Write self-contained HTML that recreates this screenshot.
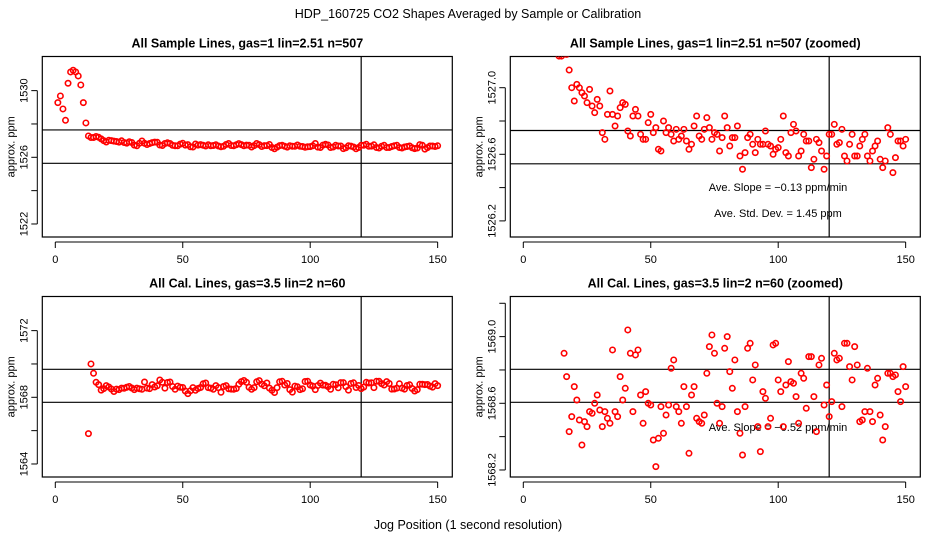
<!DOCTYPE html>
<html><head><meta charset="utf-8"><style>
html,body{margin:0;padding:0;background:#fff;width:936px;height:540px;overflow:hidden;}
svg{display:block;font-family:"Liberation Sans",sans-serif;overflow:hidden;}
</style></head><body>
<svg id="c" width="936" height="540" viewBox="0 0 936 540">
<text x="468" y="18" text-anchor="middle" font-size="12.5">HDP_160725  CO2 Shapes Averaged by Sample or Calibration</text>
<text x="468" y="529" text-anchor="middle" font-size="12.5">Jog Position (1 second resolution)</text>
</svg>
<script>
const sampleX=[1,2,3,4,5,6,7,8,9,10,11,12,13,14,15,16,17,18,19,20,21,22,23,24,25,26,27,28,29,30,31,32,33,34,35,36,37,38,39,40,41,42,43,44,45,46,47,48,49,50,51,52,53,54,55,56,57,58,59,60,61,62,63,64,65,66,67,68,69,70,71,72,73,74,75,76,77,78,79,80,81,82,83,84,85,86,87,88,89,90,91,92,93,94,95,96,97,98,99,100,101,102,103,104,105,106,107,108,109,110,111,112,113,114,115,116,117,118,119,120,121,122,123,124,125,126,127,128,129,130,131,132,133,134,135,136,137,138,139,140,141,142,143,144,145,146,147,148,149,150];
const sampleY=[1529.28,1529.68,1528.9,1528.22,1530.44,1531.12,1531.22,1531.12,1530.88,1530.34,1529.28,1528.06,1527.28,1527.19,1527.19,1527.25,1527.2,1527.106,1527.0,1526.92,1527.02,1527.0,1526.97,1526.95,1526.91,1526.99,1526.89,1526.85,1526.93,1526.89,1526.73,1526.69,1526.84,1526.98,1526.84,1526.77,1526.83,1526.88,1526.91,1526.90,1526.74,1526.71,1526.83,1526.87,1526.83,1526.72,1526.69,1526.69,1526.79,1526.84,1526.73,1526.76,1526.63,1526.62,1526.80,1526.73,1526.76,1526.72,1526.68,1526.75,1526.69,1526.71,1526.75,1526.68,1526.63,1526.66,1526.77,1526.83,1526.71,1526.69,1526.75,1526.82,1526.76,1526.69,1526.73,1526.72,1526.62,1526.70,1526.83,1526.76,1526.65,1526.70,1526.70,1526.77,1526.59,1526.51,1526.61,1526.70,1526.72,1526.66,1526.61,1526.69,1526.66,1526.66,1526.74,1526.66,1526.65,1526.60,1526.63,1526.64,1526.69,1526.83,1526.61,1526.59,1526.73,1526.78,1526.74,1526.59,1526.62,1526.72,1526.68,1526.68,1526.52,1526.57,1526.69,1526.67,1526.62,1526.51,1526.59,1526.72,1526.72,1526.78,1526.66,1526.67,1526.75,1526.59,1526.56,1526.66,1526.72,1526.59,1526.59,1526.65,1526.69,1526.72,1526.59,1526.56,1526.62,1526.65,1526.68,1526.57,1526.52,1526.56,1526.76,1526.72,1526.49,1526.58,1526.68,1526.68,1526.65,1526.69];
const calX=[13,14,15,16,17,18,19,20,21,22,23,24,25,26,27,28,29,30,31,32,33,34,35,36,37,38,39,40,41,42,43,44,45,46,47,48,49,50,51,52,53,54,55,56,57,58,59,60,61,62,63,64,65,66,67,68,69,70,71,72,73,74,75,76,77,78,79,80,81,82,83,84,85,86,87,88,89,90,91,92,93,94,95,96,97,98,99,100,101,102,103,104,105,106,107,108,109,110,111,112,113,114,115,116,117,118,119,120,121,122,123,124,125,126,127,128,129,130,131,132,133,134,135,136,137,138,139,140,141,142,143,144,145,146,147,148,149,150];
const calY=[1565.82,1570.0,1569.44,1568.90,1568.76,1568.43,1568.52,1568.70,1568.62,1568.50,1568.35,1568.49,1568.46,1568.55,1568.54,1568.60,1568.65,1568.56,1568.46,1568.55,1568.51,1568.48,1568.92,1568.55,1568.52,1568.76,1568.62,1568.69,1569.04,1568.90,1568.55,1568.89,1568.92,1568.65,1568.48,1568.67,1568.60,1568.59,1568.38,1568.22,1568.39,1568.58,1568.42,1568.53,1568.59,1568.81,1568.86,1568.58,1568.55,1568.48,1568.70,1568.58,1568.30,1568.65,1568.70,1568.51,1568.49,1568.48,1568.53,1568.78,1568.94,1569.01,1568.90,1568.60,1568.48,1568.58,1568.93,1569.00,1568.79,1568.69,1568.86,1568.55,1568.42,1568.29,1568.58,1568.93,1568.96,1568.74,1568.83,1568.46,1568.31,1568.67,1568.63,1568.46,1568.51,1568.95,1568.96,1568.74,1568.67,1568.46,1568.71,1568.85,1568.73,1568.72,1568.64,1568.48,1568.78,1568.75,1568.57,1568.88,1568.88,1568.64,1568.43,1568.83,1568.87,1568.59,1568.71,1568.52,1568.61,1568.90,1568.86,1568.87,1568.58,1568.96,1568.96,1568.82,1568.74,1568.94,1568.83,1568.49,1568.50,1568.55,1568.81,1568.55,1568.49,1568.71,1568.75,1568.53,1568.38,1568.46,1568.78,1568.78,1568.76,1568.77,1568.67,1568.61,1568.82,1568.70];
const xTicks=[0,50,100,150];
const tlTicks=[1522,1524,1526,1528,1530], tlLabels=["1522","","1526","","1530"];
const trTicks=[1526.2,1526.4,1526.6,1526.8,1527.0], trLabels=["1526.2","","1526.6","","1527.0"];
const blTicks=[1564,1566,1568,1570,1572], blLabels=["1564","","1568","","1572"];
const brTicks=[1568.2,1568.4,1568.6,1568.8,1569.0,1569.2], brLabels=["1568.2","","1568.6","","1569.0",""];
const vLine=120;

const NS="http://www.w3.org/2000/svg";
const svg=document.getElementById('c');
function mk(tag,attrs,parent){const e=document.createElementNS(NS,tag);for(const k in attrs)e.setAttribute(k,attrs[k]);(parent||svg).appendChild(e);return e;}

function panel(o){
  const g=mk('g',{});
  
  
  const L=o.left,R=o.left+410,T=o.top,B=o.top+180.5;
  const xs=v=>o.left+13+v*2.549;
  const ys=v=>o.y0-(v-o.v0)*o.k;
  const cid='clip-'+o.name;
  const cp=mk('clipPath',{id:cid},g);mk('rect',{x:L,y:T,width:R-L,height:B-T},cp);
  const t=mk('text',{x:(L+R)/2,y:T-9,'text-anchor':'middle','font-size':12.5,'font-weight':'bold'},g);
  t.textContent=o.title;
  
  
  const box=mk('rect',{x:L,y:T,width:R-L,height:B-T,fill:'none',stroke:'#000','stroke-width':1.2},g);
  
  
  const xa=mk('g',{},g);
  
  
  mk('line',{x1:xs(xTicks[0]),x2:xs(xTicks[xTicks.length-1]),y1:B+5,y2:B+5,stroke:'#000'},xa);
  xTicks.forEach(v=>{mk('line',{x1:xs(v),x2:xs(v),y1:B+5,y2:B+11,stroke:'#000'},xa);
    if(o.xlab){const tl=mk('text',{x:xs(v),y:B+26,'text-anchor':'middle','font-size':11},xa);tl.textContent=v;
    
    }});
  const ya=mk('g',{},g);
  
  
  mk('line',{x1:L-5,x2:L-5,y1:ys(o.ticks[0]),y2:ys(o.ticks[o.ticks.length-1]),stroke:'#000'},ya);
  o.ticks.forEach((v,i)=>{mk('line',{x1:L-11,x2:L-5,y1:ys(v),y2:ys(v),stroke:'#000'},ya);
    if(o.labels[i]){const tl=mk('text',{x:0,y:0,'text-anchor':'middle','font-size':11,transform:`translate(${L-15},${ys(v)}) rotate(-90)`},ya);tl.textContent=o.labels[i];
    
    }});
  const yt=mk('text',{x:0,y:0,'text-anchor':'middle','font-size':11,transform:`translate(${L-28},${(T+B)/2}) rotate(-90)`},g);
  yt.textContent='approx. ppm';
  
  
  o.hl.forEach(v=>{const l=mk('line',{x1:L,x2:R,y1:ys(v),y2:ys(v),stroke:'#000','stroke-width':1.2},g);
    
    });
  const vl=mk('line',{x1:xs(vLine),x2:xs(vLine),y1:T,y2:B,stroke:'#000','stroke-width':1.2},g);
  
  
  (o.notes||[]).forEach(n=>{const tx=mk('text',{x:n[0],y:n[1],'text-anchor':'middle','font-size':11},g);tx.textContent=n[2];
    
    });
  const pg=mk('g',{'clip-path':`url(#${cid})`},g);
  o.X.forEach((x,i)=>{const c=mk('circle',{cx:xs(x),cy:ys(o.Y[i]),r:2.7,fill:'none',stroke:'#f00','stroke-width':1.6},pg);
    
    });
}
panel({name:'sample-panel',left:42.3,top:56.5,title:'All Sample Lines, gas=1 lin=2.51 n=507',y0:157.3,v0:1526,k:16.67,ticks:tlTicks,labels:tlLabels,hl:[1527.64,1525.64],X:sampleX,Y:sampleY,xlab:true});
panel({name:'sample-zoomed-panel',left:510.3,top:56.5,title:'All Sample Lines, gas=1 lin=2.51 n=507 (zoomed)',y0:154.3,v0:1526.6,k:166.5,ticks:trTicks,labels:trLabels,hl:[1526.743,1526.543],X:sampleX,Y:sampleY,xlab:true,
  notes:[[778,191,'Ave. Slope =  \u22120.13  ppm/min'],[778,217,'Ave. Std. Dev. =  1.45  ppm']]});
panel({name:'cal-panel',left:42.3,top:296.5,title:'All Cal. Lines, gas=3.5 lin=2 n=60',y0:397.3,v0:1568,k:16.67,ticks:blTicks,labels:blLabels,hl:[1569.68,1567.7],X:calX,Y:calY,xlab:true});
panel({name:'cal-zoomed-panel',left:510.3,top:296.5,title:'All Cal. Lines, gas=3.5 lin=2 n=60 (zoomed)',y0:403.3,v0:1568.6,k:166.7,ticks:brTicks,labels:brLabels,hl:[1568.804,1568.606],X:calX,Y:calY,xlab:true,
  notes:[[778,431,'Ave. Slope =  \u22120.52  ppm/min']]});
</script>
</body></html>
